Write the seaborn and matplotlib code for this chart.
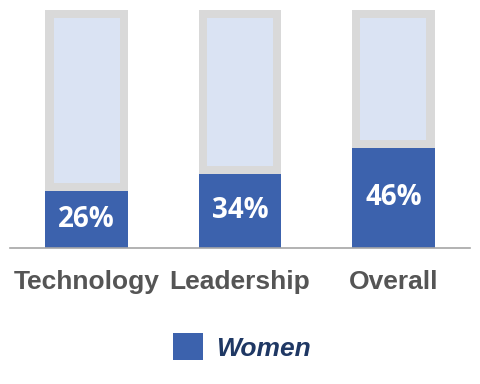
import seaborn as sns
import matplotlib.pyplot as plt
import pandas as pd
from matplotlib.patches import Patch

categories = ["Technology", "Leadership", "Overall"]
women = [26, 34, 46]
total = [109.2, 109.2, 109.2]

BLUE = "#3C62AD"
GRAY = "#D9D9D9"
PALE = "#DAE3F3"
RIM = 3.7  # gray rim thickness in data units (~8px)

df = pd.DataFrame({"category": categories, "women": women, "total": total})
df["inner"] = df["total"] - RIM
df["rim"] = df["women"] + RIM

sns.set_style("white")
plt.rcParams["font.family"] = ["Liberation Sans", "DejaVu Sans"]

fig = plt.figure(figsize=(4.8, 3.84), dpi=100)
ax = fig.add_axes([10 / 480, 136 / 384, 460 / 480, 238 / 384])

common = dict(data=df, x="category", order=categories, linewidth=0, saturation=1, ax=ax)
# background "100%" bars: gray frame with pale inside
sns.barplot(y="total", color=GRAY, width=0.54, **common)
sns.barplot(y="inner", color=PALE, width=0.43, **common)
sns.barplot(y="rim", color=GRAY, width=0.54, **common)
# women share
sns.barplot(y="women", color=BLUE, width=0.54, **common)

ax.set_xlim(-0.5, 2.5)
ax.set_ylim(0, 109.2)

for i, v in enumerate(women):
    ax.text(i, v / 2, f"{v}%", ha="center", va="center", color="white",
            fontsize=20, fontweight="bold", family=["Open Sans", "DejaVu Sans"])

ax.set_xlabel("")
ax.set_ylabel("")
ax.set_yticks([])
ax.tick_params(axis="x", length=0, pad=16)
ax.set_xticks(range(len(categories)))
ax.set_xticklabels(categories, fontsize=19, fontweight="bold", color="#555555")
for s in ["top", "left", "right"]:
    ax.spines[s].set_visible(False)
ax.spines["bottom"].set_color("#A6A6A6")
ax.spines["bottom"].set_linewidth(1.2)

fig.legend(handles=[Patch(facecolor=BLUE, edgecolor="none", label="Women")],
           loc="center", bbox_to_anchor=(242 / 480, 1 - 347 / 384), frameon=False,
           handlelength=1.15, handleheight=1.15, handletextpad=0.5,
           prop={"size": 19, "weight": "bold", "style": "italic"},
           labelcolor="#1F3864")

fig.savefig("out.png", dpi=100)
